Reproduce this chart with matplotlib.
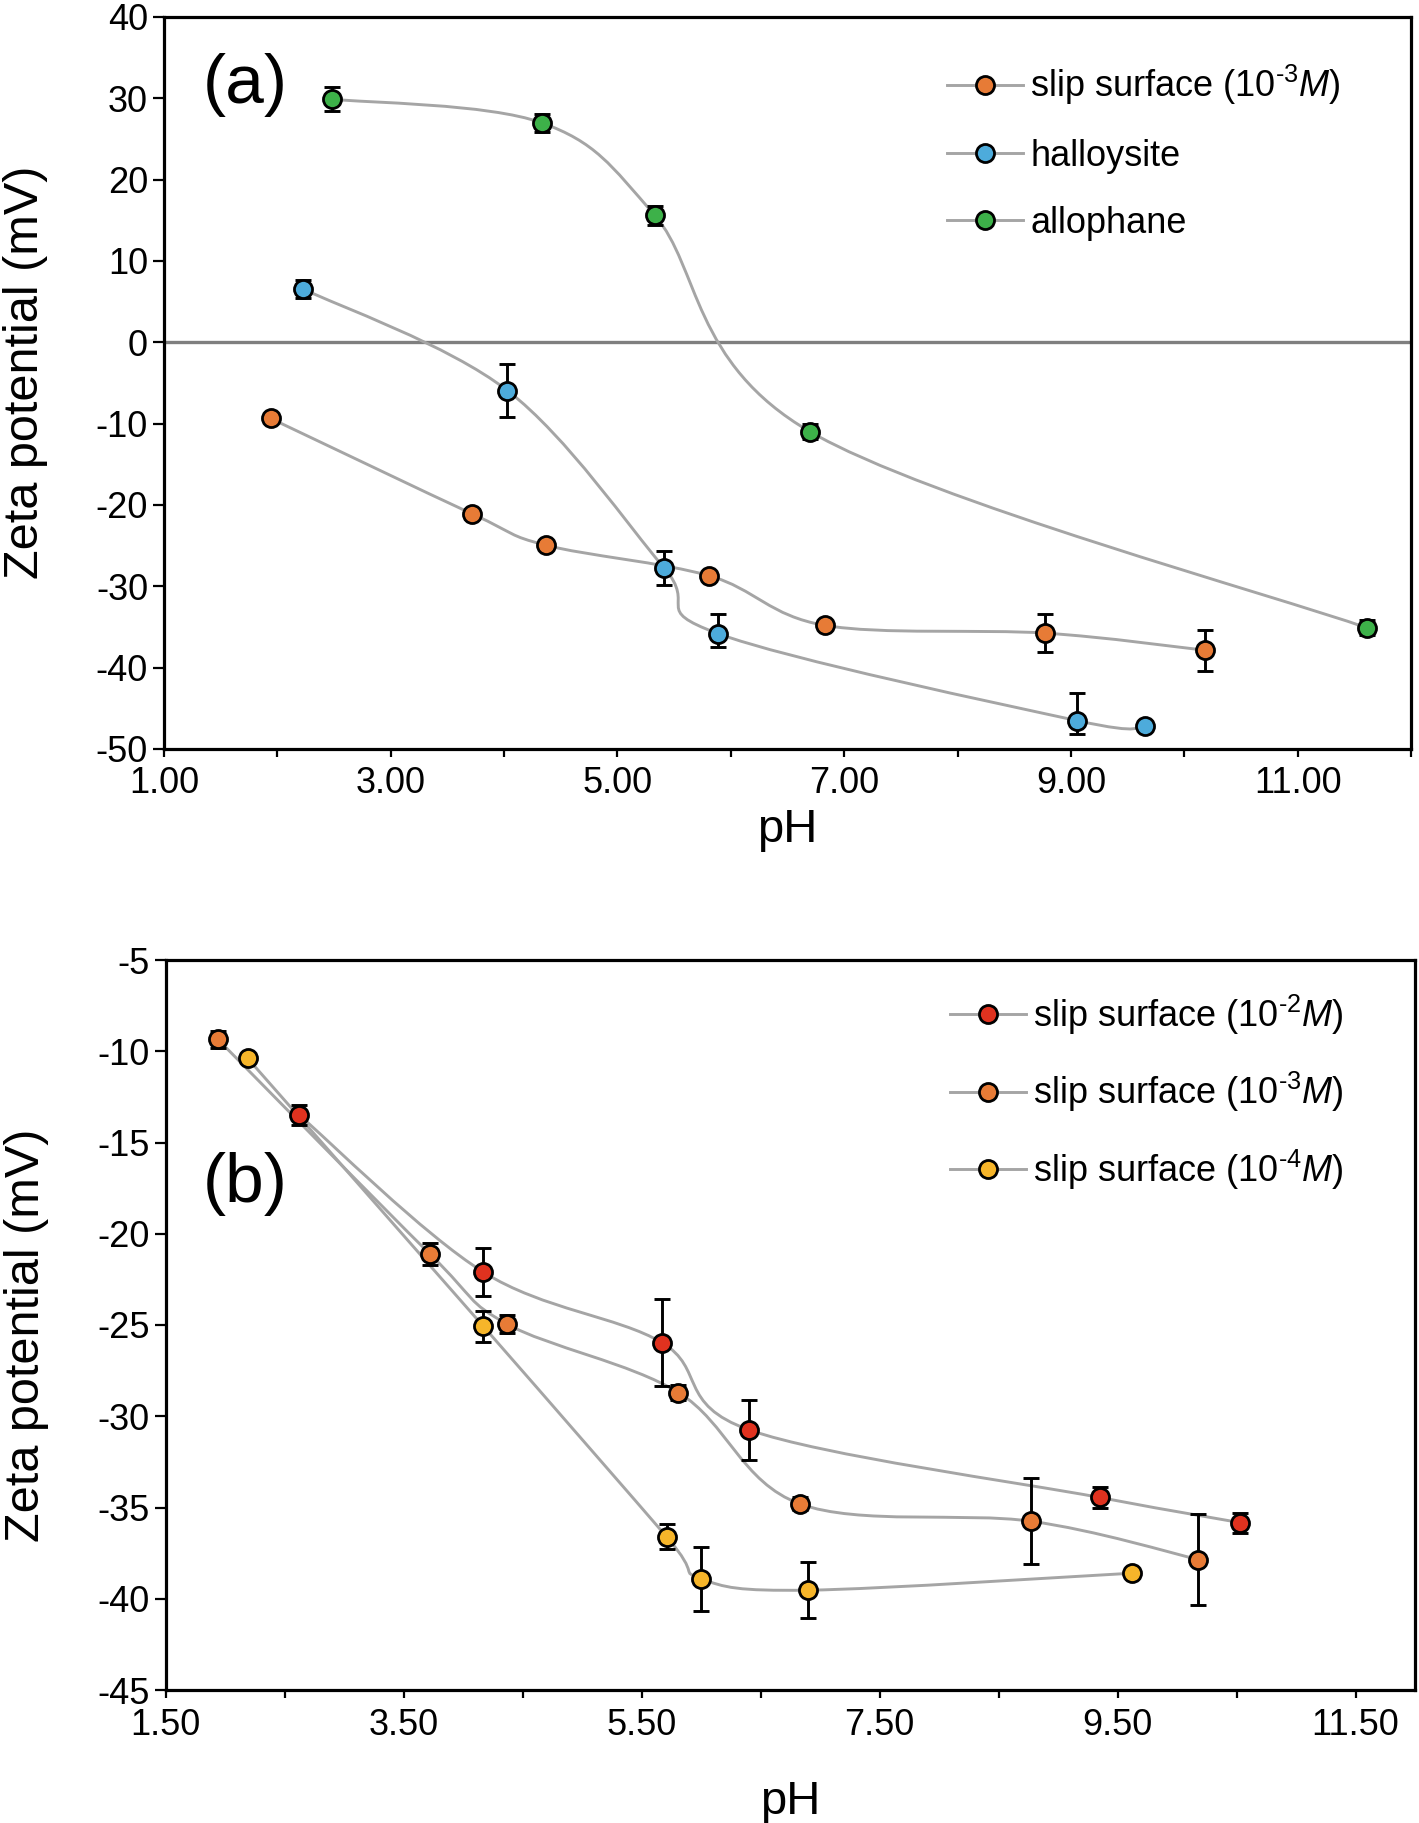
import matplotlib
matplotlib.use('Agg')
import matplotlib.pyplot as plt
import numpy as np
from matplotlib import font_manager
from matplotlib.path import Path
from matplotlib.patches import PathPatch
from matplotlib.lines import Line2D
from matplotlib.ticker import MultipleLocator, FixedLocator

plt.rcParams['font.family'] = ['Liberation Sans', 'DejaVu Sans']
plt.rcParams['mathtext.fontset'] = 'custom'
plt.rcParams['mathtext.rm'] = 'Liberation Sans'
plt.rcParams['mathtext.it'] = 'Liberation Sans:italic'

# tick labels in the original look like a narrow Arial
installed = {f.name for f in font_manager.fontManager.ttflist}
if 'Liberation Sans Narrow' in installed:
    tick_font, tick_size = 'Liberation Sans Narrow', 29
else:
    tick_font, tick_size = 'Liberation Sans', 26

# ---- data: panel (a) ----
ph_slip3 = [1.94, 3.72, 4.37, 5.81, 6.83, 8.77, 10.18]
zeta_slip3 = [-9.35, -21.1, -24.95, -28.7, -34.8, -35.75, -37.85]
err_slip3 = [0.45, 0.6, 0.5, 0.4, 0.35, 2.35, 2.5]

ph_hal = [2.23, 4.03, 5.41, 5.885, 9.05, 9.65]
zeta_hal = [6.55, -5.93, -27.7, -35.8, -46.5, -47.2]
err_hal_lo = [1.1, 3.3, 2.1, 1.7, 1.7, 0.0]
err_hal_hi = [1.1, 3.3, 2.1, 2.45, 3.4, 0.0]

ph_allo = [2.48, 4.33, 5.33, 6.70, 11.61]
zeta_allo = [29.9, 27.0, 15.6, -11.0, -35.1]
err_allo = [1.5, 1.1, 1.2, 0.9, 0.9]

# ---- data: panel (b) ----
ph_slip2 = [2.62, 4.17, 5.67, 6.405, 9.35, 10.53]
zeta_slip2 = [-13.48, -22.1, -25.96, -30.75, -34.45, -35.83]
err_slip2 = [0.55, 1.31, 2.37, 1.63, 0.55, 0.55]

ph_slip4 = [2.19, 4.17, 5.71, 6.0, 6.9, 9.62]
zeta_slip4 = [-10.39, -25.07, -36.6, -38.9, -39.53, -38.6]
err_slip4 = [0.0, 0.86, 0.7, 1.75, 1.54, 0.0]

xticks_a = [1, 3, 5, 7, 9, 11]
yticks_a = [-50, -40, -30, -20, -10, 0, 10, 20, 30, 40]
xticks_b = [1.5, 3.5, 5.5, 7.5, 9.5, 11.5]
yticks_b = [-45, -40, -35, -30, -25, -20, -15, -10, -5]

labels_a = ['slip surface (10$^{\\text{-3}}$$\\it{M}$)', 'halloysite', 'allophane']
labels_b = ['slip surface (10$^{\\text{-2}}$$\\it{M}$)', 'slip surface (10$^{\\text{-3}}$$\\it{M}$)',
            'slip surface (10$^{\\text{-4}}$$\\it{M}$)']

c_orange = '#E77B36'
c_blue = '#4DABDB'
c_green = '#3DB149'
c_red = '#E0321F'
c_yellow = '#F6B52A'
c_line = '#A5A5A5'


def smooth_path(x, y):
    # excel-like smoothed line as cubic bezier segments
    pts = np.column_stack([x, y])
    n = len(pts)
    verts = [pts[0]]
    codes = [Path.MOVETO]
    for i in range(n - 1):
        p0 = pts[max(i - 1, 0)]
        p1 = pts[i]
        p2 = pts[i + 1]
        p3 = pts[min(i + 2, n - 1)]
        verts += [p1 + (p2 - p0) / 6, p2 - (p3 - p1) / 6, p2]
        codes += [Path.CURVE4] * 3
    return Path(verts, codes)


def series(ax, x, y, err, color):
    ax.add_patch(PathPatch(smooth_path(x, y), fc='none', ec=c_line, lw=2.1, zorder=2))
    ax.errorbar(x, y, yerr=err, fmt='none', ecolor='black', elinewidth=2.1,
                capsize=6, capthick=2.1, zorder=3)
    ax.plot(x, y, 'o', ms=13, mfc=color, mec='black', mew=2.0, zorder=4, ls='none')


def handle(color):
    return Line2D([], [], color=c_line, lw=2.1, marker='o', ms=13,
                  mfc=color, mec='black', mew=2.0)


def style(ax, xpad):
    for s in ax.spines.values():
        s.set_linewidth(2.3)
        s.set_color('black')
    ax.tick_params(axis='x', which='both', direction='out', length=6, width=1.6,
                   labelsize=tick_size, pad=xpad, top=False)
    ax.tick_params(axis='y', direction='out', length=8, width=1.6,
                   labelsize=tick_size, pad=3.5, right=False)
    for lab in ax.get_xticklabels() + ax.get_yticklabels():
        lab.set_fontfamily([tick_font, 'DejaVu Sans'])


fig = plt.figure(figsize=(14.19, 18.23), dpi=100)

# ---- panel (a) ----
ax = fig.add_axes([164 / 1419, 1 - 749 / 1823, (1411 - 164) / 1419, (749 - 17) / 1823])
ax.axhline(0, color='#7F7F7F', lw=2.4, zorder=1)
series(ax, ph_slip3, zeta_slip3, err_slip3, c_orange)
series(ax, ph_hal, zeta_hal, [err_hal_lo, err_hal_hi], c_blue)
series(ax, ph_allo, zeta_allo, err_allo, c_green)
ax.set_xlim(1, 12)
ax.set_ylim(-50, 40)
ax.set_xticks(xticks_a, ['%.2f' % v for v in xticks_a])
ax.xaxis.set_minor_locator(MultipleLocator(1))
ax.set_yticks(yticks_a, [str(v) for v in yticks_a])
style(ax, 6)
ax.set_xlabel('pH', fontsize=34)
ax.set_ylabel('Zeta potential (mV)', fontsize=35)
ax.xaxis.set_label_coords(0.5, -0.081)
ax.yaxis.set_label_coords(-0.093, 0.515)
ax.text(0.065, 0.907, '(a)', transform=ax.transAxes, fontsize=50, ha='center', va='center')
ax.legend([handle(c_orange), handle(c_blue), handle(c_green)], labels_a,
          loc='upper left', bbox_to_anchor=(0.628, 0.937), frameon=False, fontsize=26,
          handlelength=2.1, handletextpad=0.2, labelspacing=0.88, borderpad=0,
          borderaxespad=0)

# ---- panel (b) ----
ax = fig.add_axes([165.6 / 1419, 1 - 1690 / 1823, (1415 - 165.6) / 1419, (1690 - 960) / 1823])
series(ax, ph_slip2, zeta_slip2, err_slip2, c_red)
series(ax, ph_slip3, zeta_slip3, err_slip3, c_orange)
series(ax, ph_slip4, zeta_slip4, err_slip4, c_yellow)
ax.set_xlim(1.5, 12)
ax.set_ylim(-45, -5)
ax.set_xticks(xticks_b, ['%.2f' % v for v in xticks_b])
ax.xaxis.set_minor_locator(FixedLocator(np.arange(2.5, 12, 2)))
ax.set_yticks(yticks_b, [str(v) for v in yticks_b])
style(ax, 7)
ax.set_xlabel('pH', fontsize=34)
ax.set_ylabel('Zeta potential (mV)', fontsize=35)
ax.xaxis.set_label_coords(0.5, -0.123)
ax.yaxis.set_label_coords(-0.093, 0.486)
ax.text(0.0636, 0.693, '(b)', transform=ax.transAxes, fontsize=50, ha='center', va='center')
ax.legend([handle(c_red), handle(c_orange), handle(c_yellow)], labels_b,
          loc='upper left', bbox_to_anchor=(0.628, 0.955), frameon=False, fontsize=26,
          handlelength=2.1, handletextpad=0.2, labelspacing=0.92, borderpad=0,
          borderaxespad=0)

fig.savefig('out.png', dpi=100)
